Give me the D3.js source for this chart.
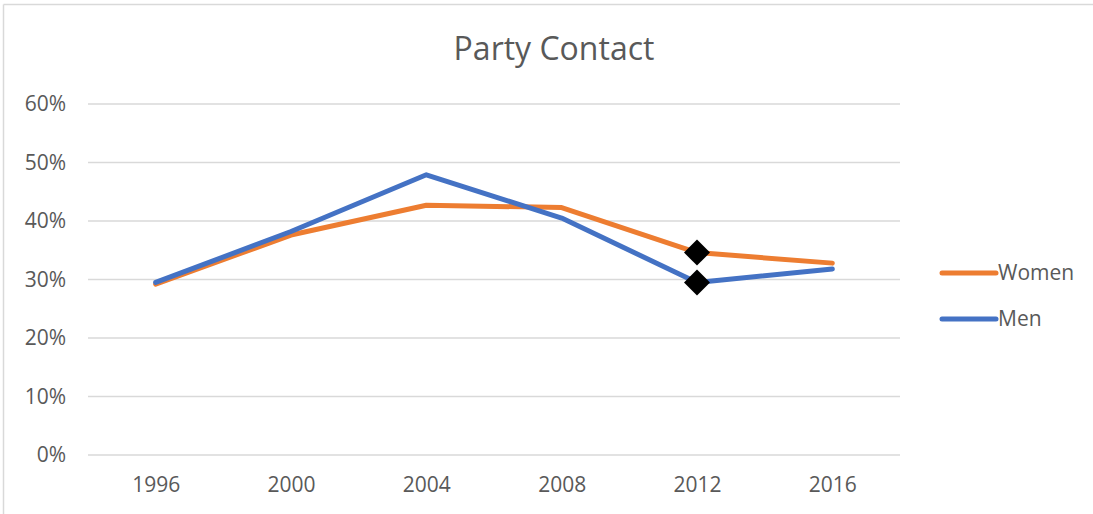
<!DOCTYPE html>
<html>
<head>
<meta charset="utf-8">
<script src="https://cdn.jsdelivr.net/npm/d3@7"></script>
<style>
  html, body { margin: 0; padding: 0; background: #fff; }
  svg { display: block; font-family: "Open Sans", Lato, sans-serif; }
</style>
</head>
<body>
<svg id="chart" width="1093" height="514"></svg>
<script>
// Share of respondents contacted by a party, by gender
const years = ["1996", "2000", "2004", "2008", "2012", "2016"];
const women = [0.292, 0.376, 0.427, 0.423, 0.346, 0.328];
const men   = [0.295, 0.382, 0.479, 0.405, 0.295, 0.318];
const yTicks = [0, 0.1, 0.2, 0.3, 0.4, 0.5, 0.6];
const highlightYear = "2012";

const series = [
  { name: "Women", values: women, color: "#ED7D31" },
  { name: "Men",   values: men,   color: "#4472C4" }
];

const svg = d3.select("#chart");
const textColor = "#595959";
const labelSize = 21;

// chart frame
svg.append("line").attr("x1", 3.5).attr("x2", 1093).attr("y1", 4.5).attr("y2", 4.5)
  .attr("stroke", "#d9d9d9").attr("stroke-width", 1.5);
svg.append("line").attr("x1", 3.5).attr("x2", 3.5).attr("y1", 4.5).attr("y2", 514)
  .attr("stroke", "#d9d9d9").attr("stroke-width", 1.5);

const plot = { left: 88, right: 900, top: 104, bottom: 455 };

const x = d3.scalePoint().domain(years).range([plot.left, plot.right]).padding(0.5);
const y = d3.scaleLinear().domain([0, 0.6]).range([plot.bottom, plot.top]);

// title
svg.append("text")
  .attr("x", 554).attr("y", 60)
  .attr("text-anchor", "middle")
  .attr("fill", textColor)
  .attr("font-size", 32)
  .text("Party Contact");

// horizontal gridlines
svg.append("g")
  .selectAll("line")
  .data(yTicks)
  .join("line")
  .attr("x1", plot.left).attr("x2", plot.right)
  .attr("y1", d => y(d)).attr("y2", d => y(d))
  .attr("stroke", "#d9d9d9").attr("stroke-width", 1.5);

// y axis labels
const yAxis = d3.axisLeft(y).tickValues(yTicks).tickFormat(d3.format(".0%")).tickSize(0).tickPadding(22);
const gy = svg.append("g").attr("transform", `translate(${plot.left},0)`).call(yAxis)
  .attr("font-family", null).attr("font-size", labelSize);
gy.select(".domain").remove();
gy.selectAll("text").attr("fill", textColor);

// x axis labels
const xAxis = d3.axisBottom(x).tickSize(0).tickPadding(22);
const gx = svg.append("g").attr("transform", `translate(0,${plot.bottom})`).call(xAxis)
  .attr("font-family", null).attr("font-size", labelSize);
gx.select(".domain").remove();
gx.selectAll("text").attr("fill", textColor);

// series lines
const line = d3.line().x((d, i) => x(years[i])).y(d => y(d));
svg.append("g")
  .selectAll("path")
  .data(series)
  .join("path")
  .attr("d", d => line(d.values))
  .attr("fill", "none")
  .attr("stroke", d => d.color)
  .attr("stroke-width", 5)
  .attr("stroke-linejoin", "round")
  .attr("stroke-linecap", "round");

// highlighted points
const hi = years.indexOf(highlightYear);
svg.append("g")
  .selectAll("path")
  .data(series)
  .join("path")
  .attr("transform", d => `translate(${x(highlightYear)},${y(d.values[hi])})`)
  .attr("d", "M0,-13L13,0L0,13L-13,0Z")
  .attr("fill", "#000");

// legend
const legend = svg.append("g")
  .selectAll("g")
  .data(series)
  .join("g")
  .attr("transform", (d, i) => `translate(942,${273 + i * 46})`);
legend.append("line")
  .attr("x1", 0).attr("x2", 54).attr("y1", 0).attr("y2", 0)
  .attr("stroke", d => d.color).attr("stroke-width", 5).attr("stroke-linecap", "round");
legend.append("text")
  .attr("x", 56).attr("y", 0).attr("dy", "0.35em")
  .attr("fill", textColor).attr("font-size", labelSize)
  .text(d => d.name);
</script>
</body>
</html>
